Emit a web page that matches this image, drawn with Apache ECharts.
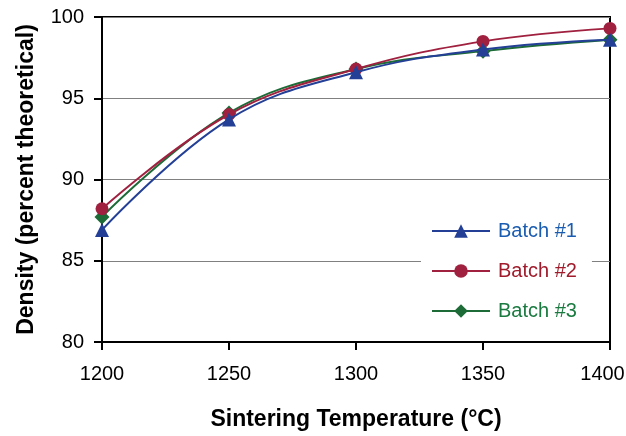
<!DOCTYPE html>
<html><head><meta charset="utf-8">
<script src="https://cdn.jsdelivr.net/npm/echarts@6/dist/echarts.min.js"></script>
<style>html,body{margin:0;padding:0;background:#fff}#c{width:626px;height:436px}</style>
</head><body><div id="c"></div>
<script>
const temps = [1200, 1250, 1300, 1350, 1400];
const batch1 = [86.9, 93.7, 96.6, 98.0, 98.6];
const batch2 = [88.2, 94.0, 96.8, 98.5, 99.3];
const batch3 = [87.7, 94.1, 96.8, 97.9, 98.6];
const seriesNames = ['Batch #1', 'Batch #2', 'Batch #3'];
const lineColors = ['#233f96', '#a0203f', '#1d6b37'];
const textColors = ['#1a5cb0', '#a01c2c', '#1a7a40'];
const symbols = ['triangle', 'circle', 'diamond'];
const sizes = [14, 13, 15];
const data = [batch1, batch2, batch3];
const FONT = 'Liberation Sans, Arial, sans-serif';

const chart = echarts.init(document.getElementById('c'));
chart.setOption({
  animation: false,
  grid: {left: 102, right: 16, top: 17, bottom: 94, show: true, borderColor: '#000', borderWidth: 2,
         outerBoundsMode: 'none', containLabel: false},
  legend: {
    orient: 'vertical', left: 421, top: 212, itemGap: 18, itemWidth: 58, itemHeight: 17,
    backgroundColor: '#fff', padding: [8, 15, 8, 10],
    data: seriesNames.map((n, i) => ({name: n, textStyle: {color: textColors[i]}})),
    textStyle: {fontFamily: FONT, fontSize: 20, padding: [0, 0, 0, 3], lineHeight: 22}
  },
  xAxis: {
    type: 'value', min: 1200, max: 1400, interval: 50,
    name: 'Sintering Temperature (°C)', nameLocation: 'middle', nameGap: 66,
    nameTextStyle: {fontFamily: FONT, fontSize: 23, fontWeight: 'bold', color: '#000'},
    axisLine: {lineStyle: {color: '#000', width: 2}},
    axisTick: {lineStyle: {color: '#000', width: 2}, length: 8},
    axisLabel: {
      fontFamily: FONT, fontSize: 20, color: '#000', margin: 22,
      formatter: v => v === temps[temps.length - 1] ? '{m|' + v + '}' : String(v),
      rich: {m: {fontFamily: FONT, fontSize: 20, color: '#000', padding: [0, 15, 0, 0]}}
    },
    splitLine: {show: false}
  },
  yAxis: {
    type: 'value', min: 80, max: 100, interval: 5,
    name: 'Density (percent theoretical)', nameLocation: 'middle', nameGap: 64,
    nameTextStyle: {fontFamily: FONT, fontSize: 23, fontWeight: 'bold', color: '#000'},
    axisLine: {lineStyle: {color: '#000', width: 2}},
    axisTick: {lineStyle: {color: '#000', width: 2}, length: 8},
    axisLabel: {fontFamily: FONT, fontSize: 20, color: '#000', margin: 18},
    splitLine: {lineStyle: {color: '#808080', width: 1}}
  },
  series: data.map((d, i) => ({
    name: seriesNames[i], type: 'line', smooth: 0.4,
    data: temps.map((t, j) => [t, d[j]]),
    symbol: symbols[i], symbolSize: sizes[i],
    lineStyle: {color: lineColors[i], width: 2},
    itemStyle: {color: lineColors[i]},
    z: 3 - i
  }))
});
</script></body></html>
